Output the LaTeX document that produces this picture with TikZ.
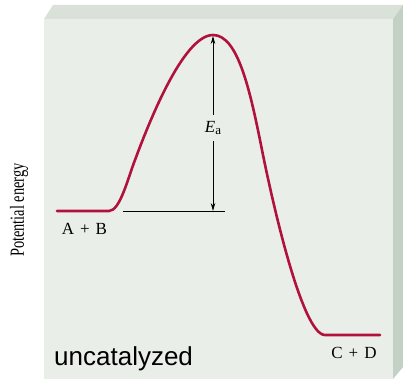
\documentclass[tikz,border=0pt]{standalone}
\usepackage{fontspec}
\setmainfont{Liberation Serif}
\newfontfamily\arialfont{Liberation Sans}
\usetikzlibrary{arrows.meta}
\definecolor{frontc}{HTML}{E9EEE9}
\definecolor{topc}{HTML}{D9E1D9}
\definecolor{sidec}{HTML}{C3D0C4}
\definecolor{curvec}{HTML}{B0123C}
\tikzset{
  lbl/.style={font=\fontsize{17}{17}\selectfont, inner sep=0pt},
  arr/.style={-{Stealth[length=8pt,width=4.5pt]}, line width=0.8pt, black},
  energy/.style={line width=2.6pt, curvec, line cap=round},
}
\begin{document}
\begin{tikzpicture}[x=1pt,y=-1pt]
\useasboundingbox (0,0) rectangle (403,379);
% box faces
\fill[topc] (44,19) -- (53,5) -- (403,5) -- (393,19) -- cycle;
\fill[sidec] (393,19) -- (403,5) -- (403,367) -- (393,379) -- cycle;
\fill[frontc] (44,19) rectangle (393,379);
% energy curve
\draw[energy] (57,211) -- (109,211)
  .. controls (120,211) and (128,178) .. (135,160)
  .. controls (148,125) and (183,35) .. (213,35)
  .. controls (238,35) and (250,90) .. (262,150)
  .. controls (272,200) and (302,335) .. (325,335)
  -- (380,335);
% baseline
\coordinate (bl) at (123,211);
\coordinate (br) at (225,211);
\draw[line width=0.8pt] (bl) -- (br);
% activation energy arrow
\coordinate (peak) at (213,36);
\coordinate (base) at (213,211);
\node[font=\fontsize{17}{17}\selectfont, inner xsep=0pt, inner ysep=6pt] (ea) at (213,128) {\itshape E\raisebox{-0.35ex}{\fontsize{13}{13}\selectfont\upshape a}};
\draw[arr] (ea) -- (peak);
\draw[arr] (ea) -- (base);
% labels
\node[lbl] (ab) at (84.5,228.5) {A\hspace{0.35em}+\hspace{0.35em}B};
\node[lbl] (cd) at (354,352.5) {C\hspace{0.35em}+\hspace{0.35em}D};
\node[inner sep=0pt, anchor=base west, font=\arialfont\fontsize{26}{26}\selectfont] (unc) at (54,365) {uncatalyzed};
\node[inner sep=0pt, rotate=90, font=\fontsize{20}{20}\selectfont] (pe) at (19,210) {\scalebox{0.72}[1]{Potential energy}};
\end{tikzpicture}
\end{document}
